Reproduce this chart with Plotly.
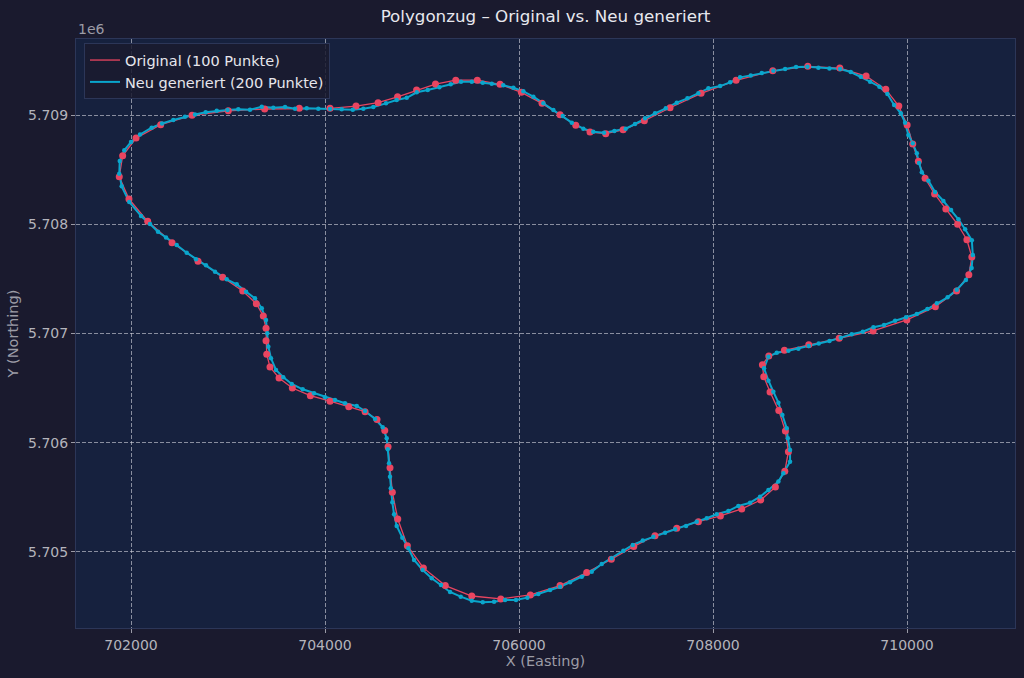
"""Polygonzug: Original vs. neu generierte Punkte."""
import numpy as np
from plotly import graph_objects as go

# Original polygon (100 points)
orig_x = [
    701879, 701914, 702052, 702306, 702629, 703003, 703378, 703735, 704052, 704320,
    704547, 704748, 704944, 705139, 705348, 705570, 705804, 706024, 706237, 706423,
    706585, 706732, 706894, 707073, 707292, 707557, 707877, 708238, 708616, 708977,
    709307, 709578, 709781, 709915, 710001, 710059, 710117, 710186, 710284, 710400,
    710521, 710617, 710668, 710637, 710511, 710292, 709998, 709650, 709300, 708987,
    708736, 708575, 708509, 708523, 708588, 708678, 708746, 708777, 708740, 708643,
    708492, 708296, 708076, 707849, 707626, 707402, 707183, 706952, 706698, 706423,
    706117, 705812, 705513, 705240, 705014, 704849, 704750, 704694, 704670, 704650,
    704616, 704536, 704413, 704245, 704052, 703849, 703663, 703526, 703433, 703399,
    703392, 703392, 703364, 703292, 703152, 702945, 702691, 702423, 702172, 701979,
]
orig_y = [
    5708435, 5708627, 5708789, 5708911, 5708997, 5709039, 5709055, 5709061, 5709061, 5709082,
    5709113, 5709167, 5709229, 5709284, 5709319, 5709319, 5709281, 5709208, 5709107, 5709003,
    5708906, 5708844, 5708829, 5708865, 5708948, 5709067, 5709199, 5709318, 5709405, 5709446,
    5709430, 5709357, 5709235, 5709082, 5708908, 5708735, 5708576, 5708421, 5708277, 5708140,
    5708000, 5707858, 5707700, 5707538, 5707389, 5707245, 5707124, 5707023, 5706956, 5706897,
    5706846, 5706794, 5706715, 5706605, 5706465, 5706294, 5706108, 5705918, 5705739, 5705595,
    5705476, 5705394, 5705330, 5705277, 5705217, 5705149, 5705050, 5704933, 5704811, 5704692,
    5704607, 5704570, 5704597, 5704692, 5704854, 5705058, 5705302, 5705547, 5705772, 5705964,
    5706112, 5706213, 5706284, 5706330, 5706380, 5706431, 5706501, 5706593, 5706693, 5706810,
    5706934, 5707048, 5707160, 5707273, 5707389, 5707514, 5707661, 5707831, 5708027, 5708231,
]

# Regenerated polygon (200 points)
new_x = [
    702103, 701982, 701904, 701879, 701884, 701931, 702000, 702093, 702213, 702320,
    702436, 702557, 702660, 702770, 702884, 702995, 703106, 703227, 703348, 703467,
    703588, 703691, 703811, 703931, 704052, 704172, 704286, 704395, 704498, 704629,
    704739, 704843, 704946, 705059, 705179, 705296, 705402, 705513, 705626, 705719,
    705838, 705942, 706045, 706148, 706251, 706354, 706451, 706544, 706663, 706766,
    706877, 706983, 707100, 707196, 707299, 707402, 707513, 707626, 707736, 707849,
    707952, 708073, 708176, 708279, 708389, 708503, 708622, 708743, 708856, 708973,
    709086, 709200, 709310, 709420, 709523, 709619, 709715, 709798, 709867, 709936,
    709980, 710014, 710059, 710101, 710124, 710152, 710220, 710289, 710375, 710454,
    710530, 710599, 710668, 710678, 710666, 710607, 710513, 710418, 710307, 710210,
    710101, 709990, 709877, 709763, 709653, 709544, 709430, 709317, 709200, 709090,
    708987, 708880, 708777, 708657, 708571, 708526, 708571, 708622, 708674, 708715,
    708760, 708771, 708794, 708794, 708725, 708674, 708571, 708485, 708382, 708261,
    708158, 708038, 707935, 707832, 707722, 707609, 707506, 707385, 707276, 707173,
    707076, 706956, 706853, 706750, 706647, 706526, 706423, 706320, 706199, 706086,
    705969, 705856, 705743, 705626, 705513, 705399, 705289, 705196, 705100, 705007,
    704918, 704859, 704797, 704739, 704712, 704694, 704678, 704670, 704660, 704647,
    704636, 704595, 704516, 704413, 704327, 704206, 704103, 704000, 703887, 703770,
    703657, 703570, 703495, 703443, 703416, 703405, 703392, 703348, 703278, 703186,
    703090, 702987, 702866, 702773, 702670, 702574, 702471, 702361, 702278, 702196,
]
new_y = [
    5708076, 5708204, 5708347, 5708463, 5708579, 5708677, 5708753, 5708822, 5708884, 5708922,
    5708954, 5708984, 5709005, 5709025, 5709039, 5709046, 5709052, 5709049, 5709076, 5709067,
    5709073, 5709058, 5709061, 5709058, 5709055, 5709052, 5709049, 5709058, 5709073, 5709107,
    5709137, 5709158, 5709208, 5709229, 5709254, 5709281, 5709305, 5709305, 5709296, 5709286,
    5709272, 5709250, 5709217, 5709168, 5709107, 5709046, 5708991, 5708930, 5708875, 5708847,
    5708838, 5708854, 5708875, 5708918, 5708970, 5709016, 5709061, 5709113, 5709153, 5709199,
    5709244, 5709265, 5709299, 5709345, 5709363, 5709384, 5709405, 5709421, 5709439, 5709442,
    5709433, 5709427, 5709421, 5709394, 5709351, 5709305, 5709259, 5709192, 5709092, 5709016,
    5708930, 5708817, 5708741, 5708649, 5708561, 5708476, 5708399, 5708295, 5708213, 5708130,
    5708045, 5707954, 5707853, 5707719, 5707600, 5707490, 5707401, 5707331, 5707276, 5707224,
    5707179, 5707148, 5707117, 5707078, 5707057, 5707016, 5706993, 5706962, 5706931, 5706909,
    5706886, 5706861, 5706843, 5706824, 5706788, 5706681, 5706568, 5706467, 5706367, 5706254,
    5706132, 5706041, 5705934, 5705827, 5705720, 5705644, 5705568, 5705506, 5705451, 5705421,
    5705375, 5705345, 5705309, 5705277, 5705238, 5705208, 5705177, 5705140, 5705104, 5705064,
    5705012, 5704942, 5704890, 5704820, 5704774, 5704723, 5704682, 5704652, 5704616, 5704582,
    5704561, 5704561, 5704545, 5704540, 5704554, 5704591, 5704634, 5704698, 5704759, 5704835,
    5704927, 5705034, 5705131, 5705238, 5705345, 5705455, 5705583, 5705689, 5705812, 5705940,
    5706041, 5706141, 5706217, 5706291, 5706337, 5706361, 5706391, 5706416, 5706453, 5706489,
    5706538, 5706599, 5706666, 5706773, 5706879, 5707002, 5707124, 5707231, 5707322, 5707383,
    5707450, 5707496, 5707566, 5707624, 5707679, 5707740, 5707810, 5707879, 5707932, 5708002,
]

x_ticks = [702000, 704000, 706000, 708000, 710000]
y_ticks = [5705000, 5706000, 5707000, 5708000, 5709000]
y_ticklabels = ["5.705", "5.706", "5.707", "5.708", "5.709"]

RED = "#e94560"
CYAN = "#0aa6cc"
FONT = "DejaVu Sans"


def closed(vals):
    return np.append(vals, vals[0])


fig = go.Figure()
fig.add_trace(go.Scatter(
    x=closed(orig_x), y=closed(orig_y), mode="lines",
    line=dict(color=RED, width=1.3), name="Original (100 Punkte)",
))
fig.add_trace(go.Scatter(
    x=closed(new_x), y=closed(new_y), mode="lines",
    line=dict(color=CYAN, width=2), name="Neu generiert (200 Punkte)",
))
fig.add_trace(go.Scatter(
    x=orig_x, y=orig_y, mode="markers",
    marker=dict(color=RED, size=7), showlegend=False,
))
fig.add_trace(go.Scatter(
    x=new_x, y=new_y, mode="markers",
    marker=dict(color=CYAN, size=4.5), showlegend=False,
))

axis_common = dict(
    showgrid=True, gridcolor="rgba(215,215,225,0.6)", gridwidth=1, griddash="4px,2px",
    zeroline=False, showline=True, mirror=True, linecolor="#2c3658", linewidth=1,
    ticks="outside", ticklen=4, tickcolor="#9a9aa6",
    tickfont=dict(family=FONT, size=14, color="#b4b4bc"),
)
label_font = dict(family=FONT, size=14.5, color="#9c9ca6")

fig.update_xaxes(
    range=[701433, 711113], tickvals=x_ticks, ticktext=[str(v) for v in x_ticks],
    title=dict(text="X (Easting)", font=label_font, standoff=4),
    **axis_common,
)
fig.update_yaxes(
    range=[5704304, 5709696], tickvals=y_ticks, ticktext=y_ticklabels,
    title=dict(text="Y (Northing)", font=label_font, standoff=6),
    **axis_common,
)

fig.add_annotation(
    text="1e6", xref="paper", yref="paper", x=0, y=1, xanchor="left", yanchor="bottom",
    showarrow=False, font=dict(family=FONT, size=14, color="#9c9ca6"),
)

fig.update_layout(
    title=dict(
        text="Polygonzug – Original vs. Neu generiert", x=0.5, xref="paper",
        y=1 - 16 / 678, yanchor="middle", font=dict(family=FONT, size=16.7, color="#e8e8ee"),
    ),
    width=1024, height=678, autosize=False,
    margin=dict(l=76, r=9, t=39, b=50),
    paper_bgcolor="#1a1a2e", plot_bgcolor="#16213e",
    legend=dict(
        x=0.0085, y=0.993, xanchor="left", yanchor="top",
        bgcolor="rgba(26,26,46,0.85)", bordercolor="#2c3658", borderwidth=1,
        font=dict(family=FONT, size=14.5, color="#e6e6ec"), tracegroupgap=0,
    ),
    showlegend=True,
)

fig.write_html(
    "out.html",
    config={"displayModeBar": False},
    post_script="document.body.style.margin='0';",
)
